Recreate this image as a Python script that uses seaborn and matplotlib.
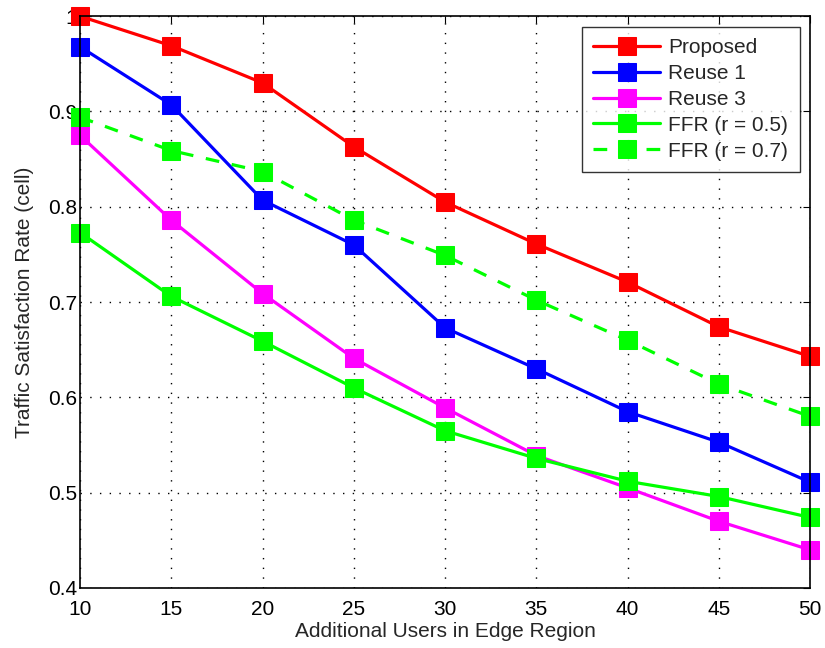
import matplotlib
matplotlib.use("Agg")
import matplotlib.pyplot as plt
import seaborn as sns
import pandas as pd

# Simulation results: traffic satisfaction per cell vs. extra edge users
users = [10, 15, 20, 25, 30, 35, 40, 45, 50]
proposed = [1.000, 0.969, 0.930, 0.863, 0.805, 0.761, 0.721, 0.674, 0.643]
reuse1 = [0.968, 0.907, 0.807, 0.760, 0.673, 0.630, 0.585, 0.553, 0.511]
reuse3 = [0.875, 0.786, 0.709, 0.641, 0.589, 0.539, 0.505, 0.470, 0.440]
ffr05 = [0.773, 0.706, 0.659, 0.610, 0.565, 0.536, 0.512, 0.496, 0.474]
ffr07 = [0.894, 0.859, 0.837, 0.786, 0.749, 0.702, 0.660, 0.614, 0.580]

series_names = ["Proposed", "Reuse 1", "Reuse 3", "FFR (r = 0.5)", "FFR (r = 0.7)"]
series_values = [proposed, reuse1, reuse3, ffr05, ffr07]
colors = ["#ff0000", "#0000ff", "#ff00ff", "#00ff00", "#00ff00"]
linestyles = ["-", "-", "-", "-", "--"]

yticks = [0.4, 0.5, 0.6, 0.7, 0.8, 0.9, 1.0]
ytick_labels = ["0.4", "0.5", "0.6", "0.7", "0.8", "0.9", "1"]
xticks = users

sns.set_style("white")
plt.rcParams["font.family"] = ["Liberation Sans", "DejaVu Sans"]
plt.rcParams["font.size"] = 15

fig = plt.figure(figsize=(8.25, 6.48), dpi=100)
ax = fig.add_axes([0.097, 0.0926, 0.885, 0.8824])

for name, vals, c, ls in zip(series_names, series_values, colors, linestyles):
    df = pd.DataFrame({"users": users, "rate": vals})
    line_ax = sns.lineplot(data=df, x="users", y="rate", ax=ax, color=c, label=name,
                           marker="s", markersize=13.5, markeredgecolor=c,
                           linewidth=2.3, clip_on=False)
    line = line_ax.lines[-1]
    if ls == "--":
        line.set_dashes((4.3, 4))

ax.set_xlim(10, 50)
ax.set_ylim(0.4, 1.0)
ax.set_xticks(xticks)
ax.set_xticklabels([str(v) for v in xticks])
ax.set_yticks(yticks)
ax.set_yticklabels(ytick_labels)
ax.set_xlabel("Additional Users in Edge Region", fontsize=15, labelpad=2)
ax.set_ylabel("Traffic Satisfaction Rate (cell)", fontsize=15, labelpad=10)

ax.grid(True, color="black", linestyle=(0, (1, 6)), linewidth=1.0)
ax.tick_params(direction="in", top=True, right=True, length=5, width=0.8,
               labelsize=15, colors="black", pad=2)
ax.tick_params(axis="x", pad=9)
for sp in ax.spines.values():
    sp.set_visible(True)
    sp.set_color("black")
    sp.set_linewidth(1.2)

leg = ax.legend(loc="upper right", fontsize=15, handlelength=3.2,
                frameon=True, fancybox=False, edgecolor="black",
                borderpad=0.55, labelspacing=0.33, handletextpad=0.4,
                borderaxespad=0.5)
leg.get_frame().set_linewidth(1.0)
for h in leg.legend_handles:
    h.set_markersize(13.5)

fig.savefig("out.png", dpi=100)
